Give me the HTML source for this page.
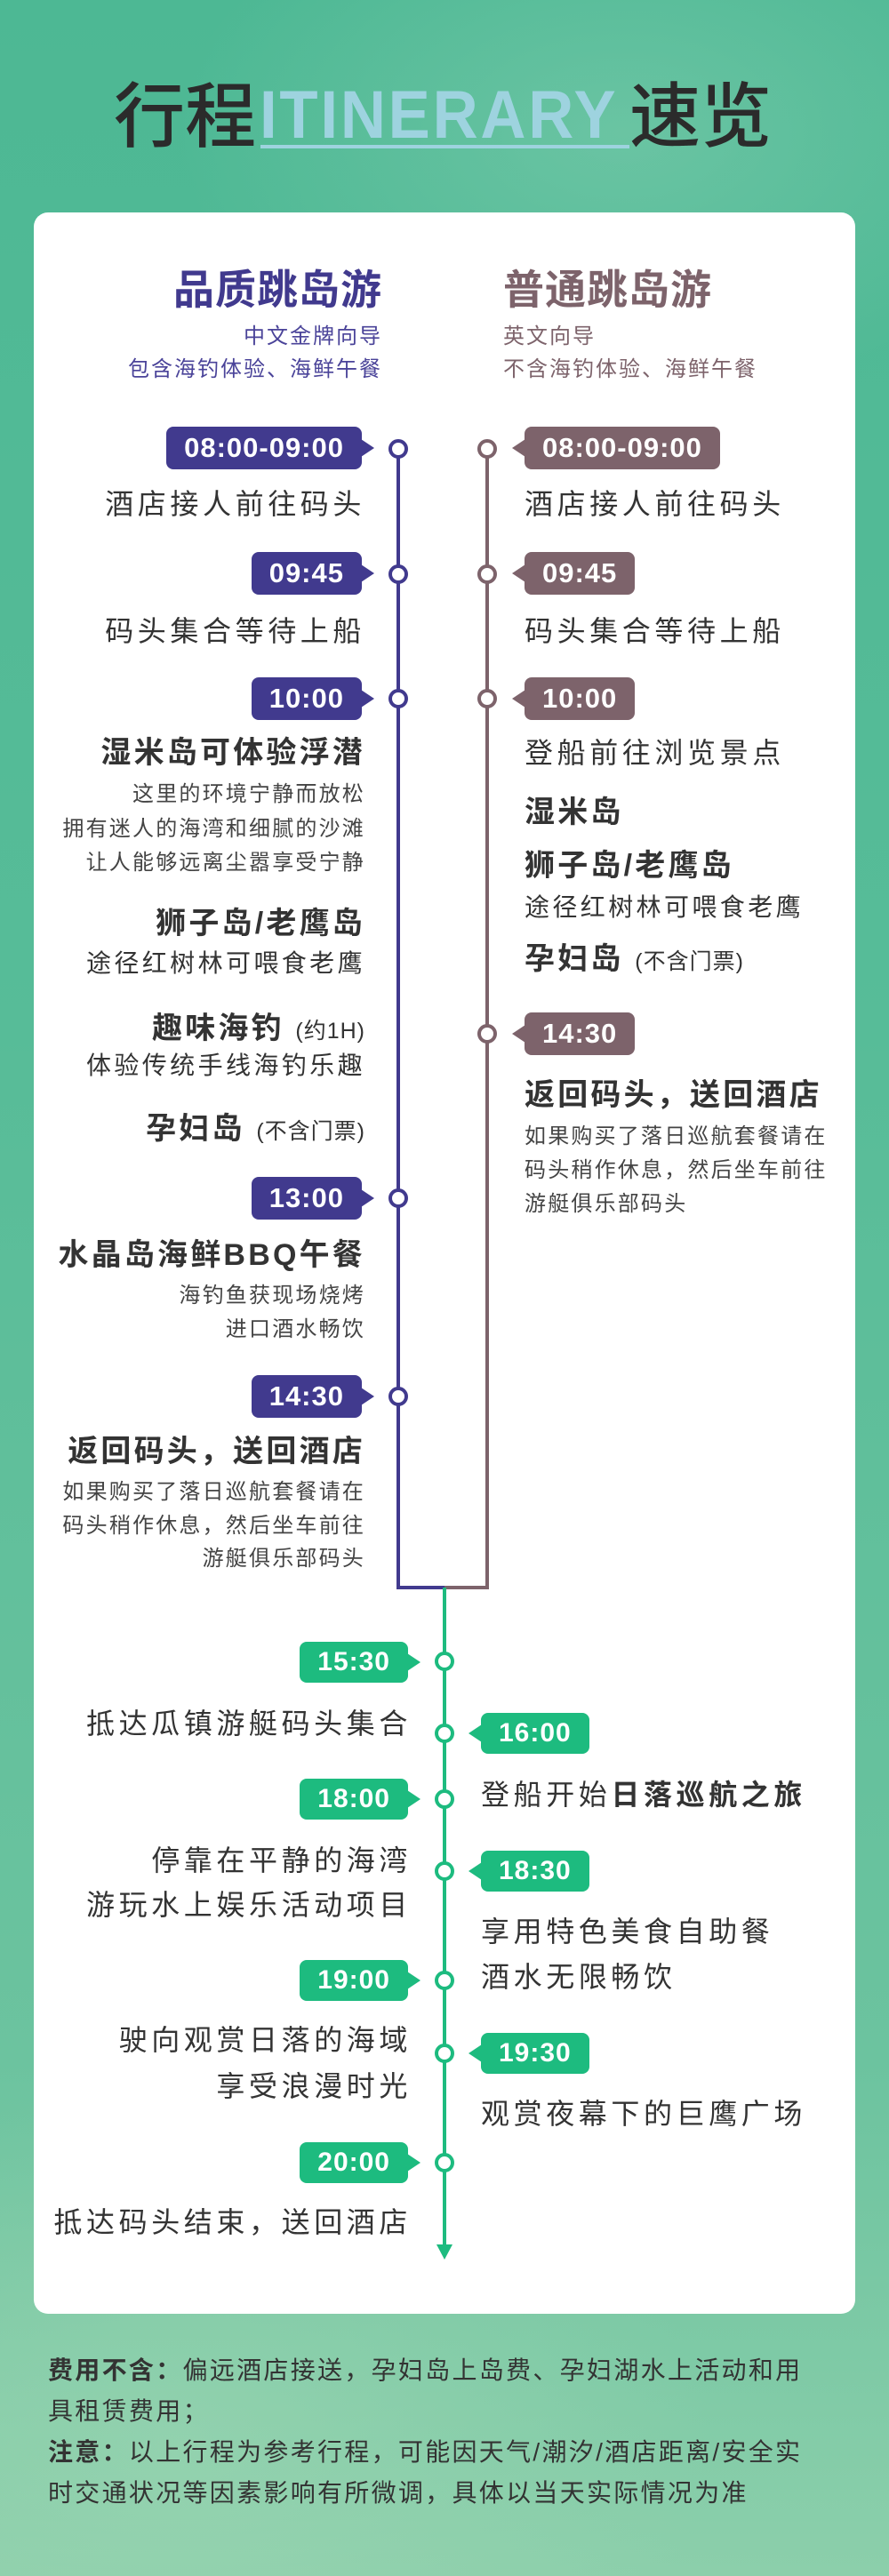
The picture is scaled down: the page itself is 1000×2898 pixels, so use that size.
<!DOCTYPE html>
<html><head><meta charset="utf-8">
<style>
*{margin:0;padding:0;box-sizing:border-box}
body{width:1000px;height:2898px;position:relative;overflow:hidden;font-family:"Liberation Sans","Noto Sans CJK SC",sans-serif;
background:radial-gradient(ellipse 500px 300px at 700px 150px,rgba(140,210,180,.45),transparent),radial-gradient(ellipse 600px 400px at 200px 2750px,rgba(160,215,180,.5),transparent),linear-gradient(180deg,#4db894 0%,#57bc98 40%,#6cc39f 80%,#8ccfab 100%)}
.t{position:absolute;white-space:nowrap;line-height:40px;color:#333}
.L{right:593px;text-align:right;margin-right:-4px}
.R{left:590px}
.GL{right:541px;text-align:right;margin-right:-4px}
.GR{left:541px}
.m{font-size:32px;letter-spacing:4.6px}
.d{font-size:28px;letter-spacing:3.4px}
.b{font-size:34px;font-weight:bold;letter-spacing:3.2px}
.s{font-size:24px;letter-spacing:2.2px;line-height:32px;color:#444}
.p{font-size:25px;letter-spacing:1px;font-weight:normal;color:#333}
.bg{position:absolute;height:48px;line-height:48px;padding:0 20px;border-radius:8px;color:#fff;font-size:31px;font-weight:bold;letter-spacing:1px}
.bl::after{content:"";position:absolute;right:-14px;top:14px;border-left:15px solid currentColor;border-top:10px solid transparent;border-bottom:10px solid transparent}
.br::after{content:"";position:absolute;left:-14px;top:14px;border-right:15px solid currentColor;border-top:10px solid transparent;border-bottom:10px solid transparent}
.pu{background:#413a8e}.pu::after{color:#413a8e}
.mv{background:#7d636b}.mv::after{color:#7d636b}
.gr{background:#1dbb7f;height:46px;line-height:46px;font-size:30px}.gr::after{color:#1dbb7f;top:13px}
.c{position:absolute;width:22px;height:22px;border-radius:50%;background:#fff;border:4px solid}
.ln{position:absolute}
</style></head><body>
<!-- title -->
<div class="t" style="left:128px;top:84px;font-size:80px;line-height:96px;color:#2b2b2b;font-weight:500">行程</div>
<div class="t" style="left:292px;top:88px;font-size:76px;line-height:84px;color:#9ed3df;letter-spacing:3px;transform:scaleX(.93);transform-origin:left;font-weight:bold">ITINERARY</div>
<div class="ln" style="left:293px;top:163px;width:415px;height:4px;background:#9ed3df"></div>
<div class="t" style="left:708px;top:84px;font-size:80px;line-height:96px;color:#2b2b2b;font-weight:500">速览</div>

<!-- card -->
<div class="ln" style="left:38px;top:239px;width:924px;height:2364px;background:#fff;border-radius:16px"></div>

<div class="t" style="right:570px;top:302px;font-size:46px;line-height:48px;font-weight:bold;color:#413a8e;letter-spacing:1px">品质跳岛游</div>
<div class="t" style="left:566px;top:302px;font-size:46px;line-height:48px;font-weight:bold;color:#7d636b;letter-spacing:1px">普通跳岛游</div>
<div class="t" style="right:570px;top:363px;font-size:24px;line-height:32px;color:#4a4399;letter-spacing:2px">中文金牌向导</div>
<div class="t" style="right:570px;top:400px;font-size:24px;line-height:32px;color:#4a4399;letter-spacing:2px">包含海钓体验、海鲜午餐</div>
<div class="t" style="left:566px;top:363px;font-size:24px;line-height:32px;color:#7d636b;letter-spacing:2px">英文向导</div>
<div class="t" style="left:566px;top:400px;font-size:24px;line-height:32px;color:#7d636b;letter-spacing:2px">不含海钓体验、海鲜午餐</div>

<!-- lines -->
<div class="ln" style="left:446px;top:505px;width:4px;height:1283px;background:#413a8e"></div>
<div class="ln" style="left:546px;top:505px;width:4px;height:1283px;background:#7d636b"></div>
<div class="ln" style="left:446px;top:1784px;width:54px;height:4px;background:#413a8e"></div>
<div class="ln" style="left:500px;top:1784px;width:50px;height:4px;background:#7d636b"></div>
<div class="ln" style="left:498px;top:1786px;width:4px;height:745px;background:#1dbb7f"></div>
<div class="ln" style="left:491px;top:2525px;border-top:17px solid #1dbb7f;border-left:9px solid transparent;border-right:9px solid transparent"></div>

<!-- left column -->
<div class="bg bl pu" style="right:593px;top:480px">08:00-09:00</div>
<div class="c" style="left:437px;top:494px;border-color:#413a8e"></div>
<div class="t L m" style="top:547px">酒店接人前往码头</div>
<div class="bg bl pu" style="right:593px;top:621px">09:45</div>
<div class="c" style="left:437px;top:635px;border-color:#413a8e"></div>
<div class="t L m" style="top:690px">码头集合等待上船</div>
<div class="bg bl pu" style="right:593px;top:762px">10:00</div>
<div class="c" style="left:437px;top:775px;border-color:#413a8e"></div>
<div class="t L b" style="top:827px">湿米岛可体验浮潜</div>
<div class="t L s" style="top:878px">这里的环境宁静而放松</div>
<div class="t L s" style="top:917px">拥有迷人的海湾和细腻的沙滩</div>
<div class="t L s" style="top:955px">让人能够远离尘嚣享受宁静</div>
<div class="t L b" style="top:1019px">狮子岛/老鹰岛</div>
<div class="t L d" style="top:1064px">途径红树林可喂食老鹰</div>
<div class="t L b" style="top:1137px">趣味海钓 <span class="p">(约1H)</span></div>
<div class="t L d" style="top:1179px">体验传统手线海钓乐趣</div>
<div class="t L b" style="top:1250px">孕妇岛 <span class="p">(不含门票)</span></div>
<div class="bg bl pu" style="right:593px;top:1324px">13:00</div>
<div class="c" style="left:437px;top:1337px;border-color:#413a8e"></div>
<div class="t L b" style="top:1392px">水晶岛海鲜BBQ午餐</div>
<div class="t L s" style="top:1442px">海钓鱼获现场烧烤</div>
<div class="t L s" style="top:1480px">进口酒水畅饮</div>
<div class="bg bl pu" style="right:593px;top:1547px">14:30</div>
<div class="c" style="left:437px;top:1560px;border-color:#413a8e"></div>
<div class="t L b" style="top:1613px">返回码头，送回酒店</div>
<div class="t L s" style="top:1663px">如果购买了落日巡航套餐请在</div>
<div class="t L s" style="top:1701px">码头稍作休息，然后坐车前往</div>
<div class="t L s" style="top:1738px">游艇俱乐部码头</div>

<!-- right column -->
<div class="bg br mv" style="left:590px;top:480px">08:00-09:00</div>
<div class="c" style="left:537px;top:494px;border-color:#7d636b"></div>
<div class="t R m" style="top:547px">酒店接人前往码头</div>
<div class="bg br mv" style="left:590px;top:621px">09:45</div>
<div class="c" style="left:537px;top:635px;border-color:#7d636b"></div>
<div class="t R m" style="top:690px">码头集合等待上船</div>
<div class="bg br mv" style="left:590px;top:762px">10:00</div>
<div class="c" style="left:537px;top:775px;border-color:#7d636b"></div>
<div class="t R m" style="top:827px">登船前往浏览景点</div>
<div class="t R b" style="top:894px">湿米岛</div>
<div class="t R b" style="top:954px">狮子岛/老鹰岛</div>
<div class="t R d" style="top:1001px">途径红树林可喂食老鹰</div>
<div class="t R b" style="top:1059px">孕妇岛 <span class="p">(不含门票)</span></div>
<div class="bg br mv" style="left:590px;top:1139px">14:30</div>
<div class="c" style="left:537px;top:1152px;border-color:#7d636b"></div>
<div class="t R b" style="top:1212px">返回码头，送回酒店</div>
<div class="t R s" style="top:1263px">如果购买了落日巡航套餐请在</div>
<div class="t R s" style="top:1301px">码头稍作休息，然后坐车前往</div>
<div class="t R s" style="top:1339px">游艇俱乐部码头</div>

<!-- green section -->
<div class="bg bl gr" style="right:541px;top:1847px">15:30</div>
<div class="c" style="left:489px;top:1858px;border-color:#1dbb7f"></div>
<div class="t GL m" style="top:1919px">抵达瓜镇游艇码头集合</div>
<div class="bg br gr" style="left:541px;top:1927px">16:00</div>
<div class="c" style="left:489px;top:1939px;border-color:#1dbb7f"></div>
<div class="t GR m" style="top:1999px">登船开始<b>日落巡航之旅</b></div>
<div class="bg bl gr" style="right:541px;top:2001px">18:00</div>
<div class="c" style="left:489px;top:2013px;border-color:#1dbb7f"></div>
<div class="t GL m" style="top:2073px">停靠在平静的海湾</div>
<div class="t GL m" style="top:2123px">游玩水上娱乐活动项目</div>
<div class="bg br gr" style="left:541px;top:2082px">18:30</div>
<div class="c" style="left:489px;top:2094px;border-color:#1dbb7f"></div>
<div class="t GR m" style="top:2153px">享用特色美食自助餐</div>
<div class="t GR m" style="top:2204px">酒水无限畅饮</div>
<div class="bg bl gr" style="right:541px;top:2205px">19:00</div>
<div class="c" style="left:489px;top:2217px;border-color:#1dbb7f"></div>
<div class="t GL m" style="top:2275px">驶向观赏日落的海域</div>
<div class="t GL m" style="top:2327px">享受浪漫时光</div>
<div class="bg br gr" style="left:541px;top:2287px">19:30</div>
<div class="c" style="left:489px;top:2299px;border-color:#1dbb7f"></div>
<div class="t GR m" style="top:2358px">观赏夜幕下的巨鹰广场</div>
<div class="bg bl gr" style="right:541px;top:2410px">20:00</div>
<div class="c" style="left:489px;top:2422px;border-color:#1dbb7f"></div>
<div class="t GL m" style="top:2480px">抵达码头结束，送回酒店</div>

<!-- footer -->
<div class="t" style="left:54px;top:2644px;font-size:28px;line-height:46px;letter-spacing:2.3px;color:#333;white-space:normal;width:870px"><b>费用不含：</b>偏远酒店接送，孕妇岛上岛费、孕妇湖水上活动和用具租赁费用；<br><b>注意：</b>以上行程为参考行程，可能因天气/潮汐/酒店距离/安全实时交通状况等因素影响有所微调，具体以当天实际情况为准</div>
</body></html>
